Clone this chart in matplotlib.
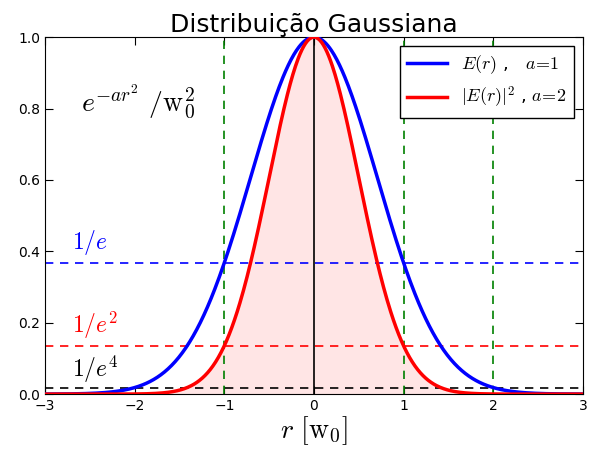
import numpy as np
import matplotlib
matplotlib.use("Agg")
import matplotlib.pyplot as plt

plt.rcParams.update({
    "mathtext.fontset": "cm",
    "xtick.direction": "in",
    "ytick.direction": "in",
    "xtick.top": True,
    "ytick.right": True,
    "xtick.major.size": 6,
    "ytick.major.size": 6,
    "xtick.labelsize": 10,
    "ytick.labelsize": 10,
    "font.size": 10,
})

# ─── Data ─────────────────────────────────────────────────────────────
a_values = [1, 2]                       # exponent factors of the two curves
curve_colors = ["#0000ff", "#ff0000"]
curve_labels = [r"$E(r)$ ,   $a\!=\!1$", r"$|E(r)|^2$ , $a\!=\!2$"]
levels = [np.exp(-1), np.exp(-2), np.exp(-4)]
level_colors = ["#0000ff", "#ff0000", "black"]
level_labels = [r"$1/e$", r"$1/e^2$", r"$1/e^4$"]
level_label_y = [0.385, 0.148, 0.025]
vlines_x = [-1, 1, 2]

r = np.linspace(-3, 3, 600)

fig = plt.figure(figsize=(5.96, 4.53), dpi=100)
ax = fig.add_axes([0.0755, 0.130, 0.9025, 0.788])

curves = [np.exp(-a * r**2) for a in a_values]
ax.fill_between(r, 0, curves[1], color="#ff0000", alpha=0.1, linewidth=0)
for y, c, lab in zip(curves, curve_colors, curve_labels):
    ax.plot(r, y, color=c, linewidth=2.5, label=lab, zorder=3)

for lv, c, lab, ly in zip(levels, level_colors, level_labels, level_label_y):
    ax.axhline(lv, color=c, linestyle="--", linewidth=1.2, dashes=(5, 4))
    ax.text(-2.7, ly, lab, color=c, fontsize=17, va="bottom", ha="left")

for x in vlines_x:
    ax.axvline(x, color="#008000", linestyle="--", linewidth=1.2, dashes=(5, 4))
ax.axvline(0, color="black", linewidth=1.2)

ax.text(-2.6, 0.82, r"$e^{-ar^2}\ /\mathrm{w}_0^2$", fontsize=20,
        va="center", ha="left")

ax.set_xlim(-3, 3)
ax.set_ylim(0, 1)
ax.set_xticks([-3, -2, -1, 0, 1, 2, 3])
ax.set_xticklabels(["\u22123", "\u22122", "\u22121", "0", "1", "2", "3"])
ax.set_yticks(np.arange(0, 1.01, 0.2))
ax.set_title("Distribuição Gaussiana", fontsize=18, pad=3)
ax.set_xlabel(r"$r\ [\mathrm{w}_0]$", fontsize=20, labelpad=1)

leg = ax.legend(loc="upper right", fontsize=13, fancybox=False, framealpha=1,
                edgecolor="black", handlelength=2.2, borderaxespad=0.5)
leg.get_frame().set_linewidth(1.0)

fig.savefig("out.png", dpi=100)
